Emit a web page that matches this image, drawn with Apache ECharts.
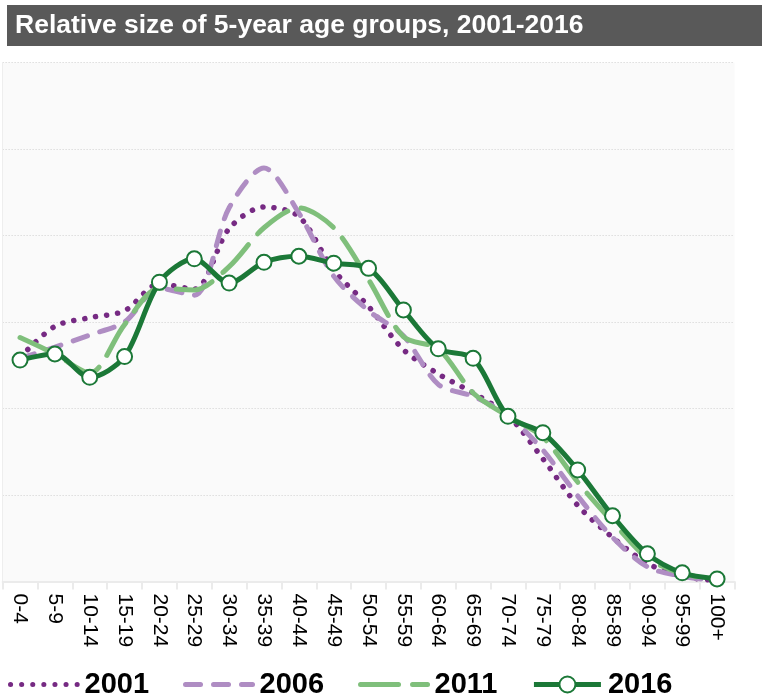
<!DOCTYPE html>
<html>
<head>
<meta charset="utf-8">
<script src="https://cdn.jsdelivr.net/npm/echarts@6/dist/echarts.min.js"></script>
<style>
  html, body { margin: 0; padding: 0; background: #fff; }
  #chart { width: 768px; height: 698px; }
</style>
</head>
<body>
<div id="chart"></div>
<script>
var ageGroups = ['0-4', '5-9', '10-14', '15-19', '20-24', '25-29', '30-34', '35-39', '40-44', '45-49',
  '50-54', '55-59', '60-64', '65-69', '70-74', '75-79', '80-84', '85-89', '90-94', '95-99', '100+'];

var years = ['2001', '2006', '2011', '2016'];

var v2001 = [2.59, 2.95, 3.05, 3.13, 3.44, 3.38, 4.08, 4.33, 4.22, 3.60, 3.18, 2.68, 2.40, 2.18, 1.92, 1.42, 0.88, 0.51, 0.21, 0.06, 0.01];
var v2006 = [2.58, 2.71, 2.85, 3.00, 3.39, 3.31, 4.32, 4.78, 4.26, 3.53, 3.13, 2.84, 2.28, 2.14, 1.92, 1.52, 0.99, 0.51, 0.17, 0.06, 0.01];
var v2011 = [2.82, 2.63, 2.41, 2.97, 3.39, 3.37, 3.64, 4.09, 4.32, 4.09, 3.49, 2.83, 2.69, 2.18, 1.91, 1.67, 1.15, 0.69, 0.27, 0.09, 0.02];
var v2016 = [2.56, 2.63, 2.36, 2.60, 3.46, 3.73, 3.45, 3.69, 3.76, 3.68, 3.62, 3.14, 2.69, 2.58, 1.91, 1.72, 1.29, 0.76, 0.32, 0.10, 0.03];

var titleText = 'Relative size of 5-year age groups, 2001-2016';

var myChart = echarts.init(document.getElementById('chart'));

var option = {
  animation: false,
  textStyle: { fontFamily: '"Liberation Sans", Arial, sans-serif' },
  graphic: [
    {
      type: 'rect',
      left: 7, top: 5,
      shape: { width: 755, height: 41 },
      style: { fill: '#595959' }
    },
    {
      type: 'text',
      left: 15, top: 12,
      style: {
        text: titleText,
        fill: '#fff',
        font: 'bold 26.5px "Liberation Sans", Arial, sans-serif'
      }
    }
  ],
  legend: {
    left: 3,
    bottom: -6,
    itemWidth: 67,
    itemHeight: 20,
    itemGap: 34,
    lineStyle: { width: 5 },
    textStyle: {
      fontSize: 29,
      fontWeight: 'bold',
      color: '#000',
      padding: [0, 0, 0, 2]
    },
    data: [
      { name: '2001', itemStyle: { opacity: 0 } },
      { name: '2006', itemStyle: { opacity: 0 } },
      { name: '2011', itemStyle: { opacity: 0 } },
      { name: '2016' }
    ]
  },
  grid: {
    left: 2.6,
    right: 33.5,
    top: 62.5,
    bottom: 116.5,
    show: true,
    backgroundColor: '#fafafa',
    borderWidth: 0
  },
  xAxis: {
    type: 'category',
    data: ageGroups,
    boundaryGap: true,
    axisLine: { lineStyle: { color: '#ebebeb', width: 2 } },
    axisTick: { show: true, length: 8, lineStyle: { color: '#ebebeb', width: 2 } },
    axisLabel: {
      rotate: -90,
      interval: 0,
      margin: 12,
      fontSize: 21,
      color: '#000'
    }
  },
  yAxis: {
    type: 'value',
    min: 0,
    max: 6,
    interval: 1,
    axisLabel: { show: false },
    axisTick: { show: false },
    axisLine: { show: true, lineStyle: { color: '#eeeeee', width: 1 } },
    splitLine: { lineStyle: { color: '#cfcfcf', type: [1, 2], width: 1 } }
  },
  series: [
    {
      name: '2001',
      type: 'line',
      smooth: 0.3,
      symbol: 'none',
      data: v2001,
      lineStyle: { color: '#762a83', width: 5.5, type: [0.1, 11], cap: 'round' },
      itemStyle: { color: '#762a83' }
    },
    {
      name: '2006',
      type: 'line',
      smooth: 0.3,
      symbol: 'none',
      data: v2006,
      lineStyle: { color: '#af8dc3', width: 5, type: [15, 13], cap: 'round' },
      itemStyle: { color: '#af8dc3' }
    },
    {
      name: '2011',
      type: 'line',
      smooth: 0.3,
      symbol: 'none',
      data: v2011,
      lineStyle: { color: '#7fbf7b', width: 5, type: [38, 14], cap: 'round' },
      itemStyle: { color: '#7fbf7b' }
    },
    {
      name: '2016',
      type: 'line',
      smooth: 0.3,
      symbol: 'circle',
      symbolSize: 15,
      data: v2016,
      lineStyle: { color: '#1b7837', width: 5 },
      itemStyle: { color: '#fff', borderColor: '#1b7837', borderWidth: 2 }
    }
  ]
};

myChart.setOption(option);
</script>
</body>
</html>
